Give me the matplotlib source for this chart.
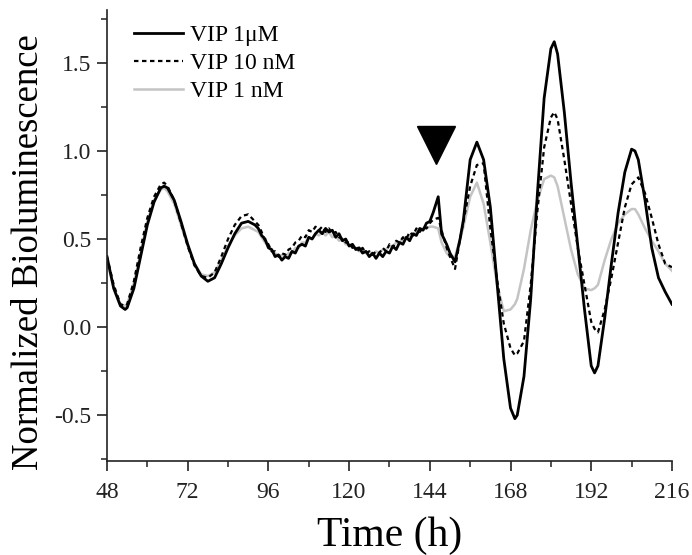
import numpy as np
import matplotlib.pyplot as plt
from matplotlib.ticker import MultipleLocator

plt.rcParams['font.family'] = ['Liberation Serif', 'DejaVu Serif']

# time points [h]
t = [48, 50, 52, 53.4, 54, 56, 58, 60, 62, 64, 65, 66, 68, 70, 72, 74, 76, 78,
     80, 82, 84, 86, 88, 90, 92,
     93, 94, 95, 96, 97, 98, 99, 100, 101, 102, 103, 104, 105, 106, 107, 108,
     109, 110, 111, 112, 113, 114, 115, 116, 117, 118, 119, 120, 121, 122, 123,
     124, 125, 126, 127, 128, 129, 130, 131, 132, 133, 134, 135, 136, 137, 138,
     139, 140, 141, 142, 143, 144, 145,
     146.5, 147.5, 149, 150, 151.5, 153, 154, 156, 158, 160, 162, 164,
     166, 168, 169.3, 170, 172, 174, 176, 178, 180, 181, 182, 184, 186, 188, 190,
     192, 193, 194, 196, 198, 200, 202, 204, 205, 206, 208, 210, 212, 214, 216]

vip_1uM = [0.40, 0.22, 0.12, 0.10, 0.11, 0.22, 0.40, 0.58, 0.71, 0.79, 0.80, 0.79,
           0.72, 0.60, 0.47, 0.36, 0.29, 0.26, 0.28, 0.36, 0.45, 0.53, 0.59, 0.60,
           0.58,
           0.56, 0.52, 0.50, 0.45, 0.44, 0.40, 0.41, 0.38, 0.40, 0.39, 0.43, 0.42,
           0.46, 0.47, 0.46, 0.51, 0.50, 0.53, 0.55, 0.53, 0.56, 0.54, 0.55, 0.51,
           0.53, 0.49, 0.50, 0.46, 0.47, 0.44, 0.45, 0.42, 0.43, 0.40, 0.42, 0.39,
           0.42, 0.40, 0.43, 0.42, 0.46, 0.44, 0.48, 0.47, 0.51, 0.49, 0.53, 0.52,
           0.56, 0.55, 0.59, 0.60, 0.65,
           0.74, 0.53, 0.47, 0.42, 0.37, 0.50, 0.61, 0.95, 1.05, 0.95, 0.68, 0.25,
           -0.18, -0.46, -0.52, -0.50, -0.28, 0.16, 0.76, 1.30, 1.58, 1.62, 1.55,
           1.22, 0.82, 0.46, 0.10, -0.22, -0.26, -0.22, 0.05, 0.36, 0.65, 0.88,
           1.01, 1.00, 0.95, 0.72, 0.45, 0.28, 0.20, 0.13]

vip_10nM = [0.40, 0.24, 0.13, 0.12, 0.13, 0.26, 0.45, 0.62, 0.74, 0.81, 0.82, 0.80,
            0.72, 0.59, 0.46, 0.35, 0.29, 0.28, 0.31, 0.40, 0.50, 0.58, 0.63, 0.64,
            0.60,
            0.58, 0.54, 0.49, 0.47, 0.43, 0.43, 0.40, 0.42, 0.41, 0.44, 0.45, 0.48,
            0.49, 0.52, 0.51, 0.55, 0.54, 0.57, 0.55, 0.57, 0.54, 0.56, 0.53, 0.54,
            0.51, 0.50, 0.48, 0.48, 0.45, 0.46, 0.43, 0.45, 0.42, 0.43, 0.41, 0.43,
            0.42, 0.45, 0.43, 0.47, 0.45, 0.49, 0.48, 0.51, 0.50, 0.54, 0.52, 0.56,
            0.54, 0.57, 0.56, 0.59, 0.61,
            0.62, 0.55, 0.45, 0.40, 0.33, 0.50, 0.60, 0.80, 0.92, 0.93, 0.56, 0.27,
            0.02, -0.12, -0.16, -0.15, -0.08, 0.24, 0.66, 1.02, 1.19, 1.22, 1.18,
            0.95, 0.70, 0.45, 0.24, 0.03, -0.01, -0.03, 0.10, 0.28, 0.48, 0.68,
            0.81, 0.83, 0.85, 0.76, 0.62, 0.47, 0.36, 0.34]

vip_1nM = [0.38, 0.22, 0.13, 0.12, 0.13, 0.25, 0.42, 0.60, 0.72, 0.78, 0.79, 0.77,
           0.70, 0.58, 0.46, 0.36, 0.30, 0.29, 0.31, 0.38, 0.46, 0.52, 0.56, 0.57,
           0.55,
           0.54, 0.51, 0.48, 0.46, 0.43, 0.42, 0.40, 0.41, 0.40, 0.42, 0.42, 0.45,
           0.45, 0.48, 0.48, 0.51, 0.50, 0.53, 0.52, 0.54, 0.52, 0.54, 0.51, 0.52,
           0.49, 0.50, 0.47, 0.47, 0.45, 0.45, 0.43, 0.44, 0.42, 0.43, 0.41, 0.43,
           0.42, 0.44, 0.44, 0.46, 0.46, 0.48, 0.48, 0.50, 0.50, 0.52, 0.52, 0.54,
           0.54, 0.56, 0.56, 0.57, 0.57,
           0.56, 0.48, 0.42, 0.40, 0.40, 0.50, 0.57, 0.74, 0.82, 0.70, 0.48, 0.24,
           0.09, 0.10, 0.13, 0.16, 0.33, 0.55, 0.72, 0.84, 0.86, 0.85, 0.80,
           0.62, 0.44, 0.30, 0.22, 0.21, 0.22, 0.24, 0.38, 0.50, 0.59, 0.64,
           0.67, 0.67, 0.64, 0.56, 0.49, 0.43, 0.36, 0.32]

labels = ['VIP 1\u03bcM', 'VIP 10 nM', 'VIP 1 nM']
xticks = [48, 72, 96, 120, 144, 168, 192, 216]
arrow_t, arrow_v = 145.8, 1.034   # VIP application

fig = plt.figure(figsize=(6.92, 5.55), dpi=100)
ax = fig.add_axes([0.1546, 0.1694, 0.8164, 0.8126])

ax.plot(t, vip_1nM, color='#c4c4c4', lw=1.8, label=labels[2])
ax.plot(t, vip_10nM, color='black', lw=1.6, ls=(0, (2.0, 1.6)), label=labels[1])
ax.plot(t, vip_1uM, color='black', lw=2.0, label=labels[0])
ax.plot([arrow_t], [arrow_v], marker='v', ms=28, color='black', ls='none')

ax.set_xlim(48, 216)
ax.set_ylim(-0.76, 1.80)
ax.set_xticks(xticks)
ax.xaxis.set_minor_locator(MultipleLocator(12))
ax.yaxis.set_minor_locator(MultipleLocator(0.25))
ax.set_yticks([-0.5, 0.0, 0.5, 1.0, 1.5])
ax.set_yticklabels(['-0.5', '0.0', '0.5', '1.0', '1.5'])

for s in ['top', 'right']:
    ax.spines[s].set_visible(False)
for s in ['left', 'bottom']:
    ax.spines[s].set_linewidth(1.2)
    ax.spines[s].set_color('#222222')
ax.tick_params(which='major', direction='out', length=7, width=1.2, labelsize=17,
               colors='#222222', pad=4)
ax.tick_params(axis='x', which='major', pad=8)
ax.tick_params(which='minor', direction='out', length=4, width=1.1, colors='#222222')

ax.set_xlabel('Time (h)', fontsize=30, labelpad=10)
ax.set_ylabel('Normalized Bioluminescence', fontsize=26.5)
ax.yaxis.set_label_coords(-0.108, 0.463)

h, l = ax.get_legend_handles_labels()
ax.legend(h[::-1], l[::-1], loc='upper left', frameon=False, fontsize=17,
          handlelength=2.05, handletextpad=0.3, labelspacing=0.28,
          bbox_to_anchor=(0.011, 1.015))

fig.savefig('out.png', dpi=100)
